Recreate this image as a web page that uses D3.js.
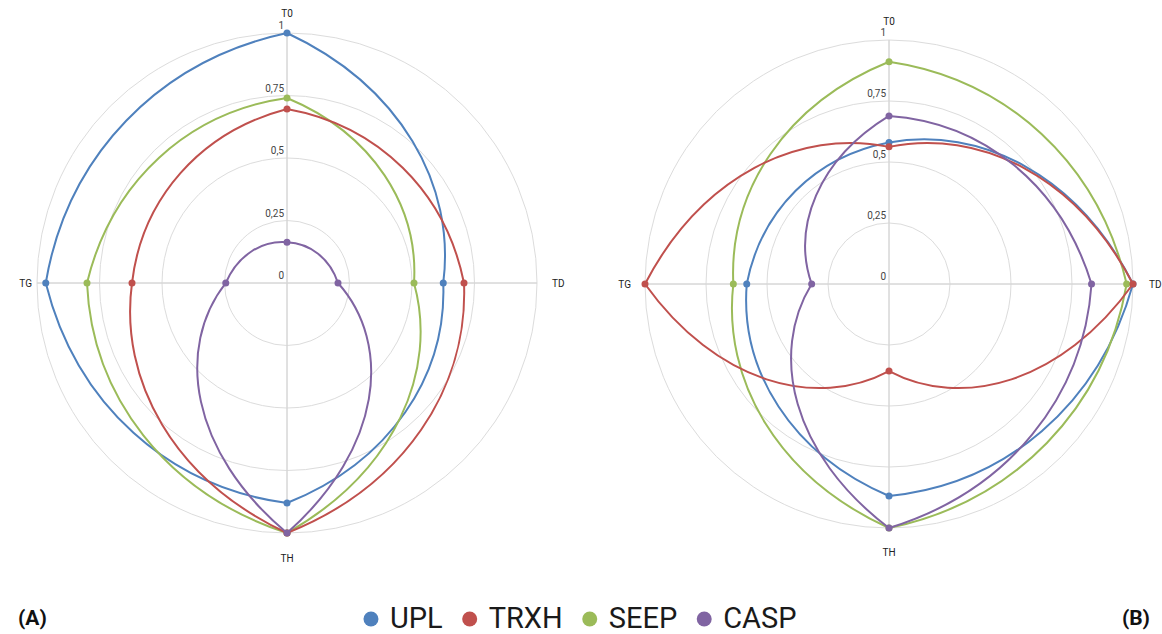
<!DOCTYPE html>
<html>
<head>
<meta charset="utf-8">
<script src="https://cdn.jsdelivr.net/npm/d3@7"></script>
<style>
  body { margin: 0; background: #fff; }
  text { font-family: Roboto, "Liberation Sans", Arial, sans-serif; }
</style>
</head>
<body>
<svg id="chart" width="1162" height="634"></svg>
<script>
// Axes go clockwise from the top
const AXES = ['T0', 'TD', 'TH', 'TG'];
const TICKS = [0, 0.25, 0.5, 0.75, 1];
const SERIES = ['UPL', 'TRXH', 'SEEP', 'CASP'];
const COLORS = ['#4f81bd', '#c0504d', '#9bbb59', '#8064a2'];

// Panel (A) values, one per axis: T0, TD, TH, TG
const A_UPL = [1, 0.625, 0.88, 0.965];
const A_TRXH = [0.696, 0.708, 1, 0.62];
const A_SEEP = [0.74, 0.508, 1, 0.80];
const A_CASP = [0.163, 0.204, 1, 0.245];

// Panel (B) values
const B_UPL = [0.58, 1, 0.869, 0.583];
const B_TRXH = [0.562, 1, 0.357, 1];
const B_SEEP = [0.911, 0.974, 1, 0.638];
const B_CASP = [0.689, 0.83, 1, 0.317];

// draw order (red goes over green)
const DRAW_ORDER = [0, 2, 1, 3];

const panels = [
  { tag: '(A)', cx: 287, cy: 283, R: 250, gapT: 16, gapR: 15, gapB: 22, gapL: 5,
    values: [A_UPL, A_TRXH, A_SEEP, A_CASP], tagX: 18, tagAnchor: 'start' },
  { tag: '(B)', cx: 889, cy: 284, R: 244, gapT: 15, gapR: 16, gapB: 21, gapL: 14,
    values: [B_UPL, B_TRXH, B_SEEP, B_CASP], tagX: 1150, tagAnchor: 'end' }
];

const BULGE = 1.04;

// Closed curve that bends along the polar grid: each side is a bezier
// whose control points sit at 1/3 and 2/3 of the angle and radius.
function curvePolarLoop(context) {
  let pts;
  const xy = (a, r) => [r * Math.sin(a), -r * Math.cos(a)];
  return {
    areaStart() {},
    areaEnd() {},
    lineStart() { pts = []; },
    point(x, y) { pts.push({ a: Math.atan2(x, -y), r: Math.hypot(x, y) }); },
    lineEnd() {
      const n = pts.length;
      context.moveTo(...xy(pts[0].a, pts[0].r));
      for (let i = 0; i < n; i++) {
        const p = pts[i], q = pts[(i + 1) % n];
        let da = q.a - p.a;
        while (da <= -Math.PI) da += 2 * Math.PI;
        while (da > Math.PI) da -= 2 * Math.PI;
        const c1 = xy(p.a + da / 3, BULGE * (p.r + (q.r - p.r) / 3));
        const c2 = xy(p.a + 2 * da / 3, BULGE * (p.r + 2 * (q.r - p.r) / 3));
        const e = xy(p.a + da, q.r);
        context.bezierCurveTo(c1[0], c1[1], c2[0], c2[1], e[0], e[1]);
      }
      context.closePath();
    }
  };
}

const svg = d3.select('#chart');
svg.append('rect').attr('width', 1162).attr('height', 634).attr('fill', '#fff');

const comma = d3.formatLocale({ decimal: ',', thousands: '.', grouping: [3], currency: ['', ''] }).format('~g');

const angle = d3.scalePoint().domain(AXES).range([0, 1.5 * Math.PI]);

panels.forEach(p => {
  const r = d3.scaleLinear().domain([0, 1]).range([0, p.R]);
  const g = svg.append('g').attr('transform', `translate(${p.cx},${p.cy})`);

  // grid rings
  g.selectAll('circle.ring')
    .data(TICKS.slice(1))
    .join('circle')
    .attr('class', 'ring')
    .attr('r', d => r(d))
    .attr('fill', 'none')
    .attr('stroke', '#dcdcdc')
    .attr('stroke-width', 1);

  // spokes
  g.selectAll('line.spoke')
    .data(AXES)
    .join('line')
    .attr('class', 'spoke')
    .attr('x1', d => -d3.pointRadial(angle(d), r(1))[0])
    .attr('y1', d => -d3.pointRadial(angle(d), r(1))[1])
    .attr('x2', d => d3.pointRadial(angle(d), r(1))[0])
    .attr('y2', d => d3.pointRadial(angle(d), r(1))[1])
    .attr('stroke', '#d6d6d6')
    .attr('stroke-width', 1);

  // tick labels on the vertical axis
  g.selectAll('text.tick')
    .data(TICKS)
    .join('text')
    .attr('class', 'tick')
    .attr('x', -3)
    .attr('y', d => -r(d) - 4)
    .attr('text-anchor', 'end')
    .attr('font-size', 10)
    .attr('fill', '#444')
    .text(d => comma(d));

  // axis names
  const gaps = { T0: p.gapT, TD: p.gapR, TH: p.gapB, TG: p.gapL };
  g.selectAll('text.axis')
    .data(AXES)
    .join('text')
    .attr('class', 'axis')
    .attr('x', d => d3.pointRadial(angle(d), r(1) + gaps[d])[0])
    .attr('y', d => d3.pointRadial(angle(d), r(1) + gaps[d])[1])
    .attr('dy', d => d === 'T0' ? '0em' : d === 'TH' ? '0.7em' : '0.35em')
    .attr('text-anchor', d => d === 'TD' ? 'start' : d === 'TG' ? 'end' : 'middle')
    .attr('font-size', 10)
    .attr('fill', '#222')
    .text(d => d);

  const line = d3.lineRadial()
    .angle((d, i) => angle(AXES[i]))
    .radius(d => r(d))
    .curve(curvePolarLoop);

  DRAW_ORDER.forEach(s => {
    const vals = p.values[s];
    g.append('path')
      .attr('d', line(vals))
      .attr('fill', 'none')
      .attr('stroke', COLORS[s])
      .attr('stroke-width', 2);
    g.selectAll(null)
      .data(vals)
      .join('circle')
      .attr('cx', (d, i) => d3.pointRadial(angle(AXES[i]), r(d))[0])
      .attr('cy', (d, i) => d3.pointRadial(angle(AXES[i]), r(d))[1])
      .attr('r', 3.5)
      .attr('fill', COLORS[s]);
  });

  svg.append('text')
    .attr('x', p.tagX)
    .attr('y', 625)
    .attr('text-anchor', p.tagAnchor)
    .attr('font-family', '"Liberation Sans", Arial, sans-serif')
    .attr('font-weight', 'bold')
    .attr('font-size', 21)
    .attr('fill', '#111')
    .text(p.tag);
});

// legend, centred under both panels
const legend = svg.append('g');
let x = 0;
SERIES.forEach((name, i) => {
  legend.append('circle')
    .attr('cx', x).attr('cy', 619).attr('r', 7.5)
    .attr('fill', COLORS[i]);
  const t = legend.append('text')
    .attr('x', x + 19).attr('y', 628)
    .attr('font-family', '"Liberation Sans", Arial, sans-serif')
    .attr('font-size', 29)
    .attr('fill', '#1a1a1a')
    .text(name);
  x += 19 + t.node().getComputedTextLength() + 27;
});
const lw = x - 27 + 7.5;
legend.attr('transform', `translate(${580 - lw / 2 + 7.5},0)`);
</script>
</body>
</html>
